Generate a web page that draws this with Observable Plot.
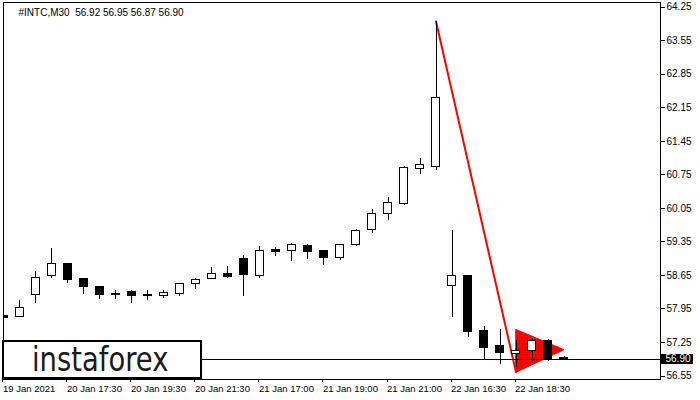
<!DOCTYPE html>
<html>
<head>
<meta charset="utf-8">
<script src="https://cdn.jsdelivr.net/npm/d3@7"></script>
<script src="https://cdn.jsdelivr.net/npm/@observablehq/plot@0.6"></script>
<style>
  html, body { margin: 0; padding: 0; background: #fff; }
  #wrap { position: relative; width: 700px; height: 400px; overflow: hidden; }
  #wrap svg text { white-space: pre; }
  #logo { position: absolute; left: 2px; top: 340px; width: 200px; height: 39px; box-sizing: border-box;
          border: 2px solid #000; background: #fff; }
  #logo span { position: absolute; left: 28px; top: 1px; display: block; white-space: nowrap;
               font-family: 'DejaVu Sans', sans-serif; font-size: 33px; line-height: 34px; color: #1a1a1a;
               transform: scaleX(0.83); transform-origin: 0 50%; }
</style>
</head>
<body>
<div id="wrap"></div>
<script>
// ---- data ----
const symbol = "#INTC,M30";
const opens  = [57.81,57.79,58.25,58.64,58.88,58.57,58.41,58.26,58.30,58.25,58.22,58.27,58.47,58.57,58.67,59.00,58.64,59.19,59.16,59.27,59.17,59.01,59.28,59.59,59.94,60.15,60.88,60.92,58.43,58.64,57.49,57.17,57.01,57.08,57.29,56.92];
const highs  = [57.82,58.13,58.73,59.21,58.88,58.57,58.41,58.34,58.34,58.33,58.34,58.48,58.59,58.82,58.84,59.06,59.25,59.23,59.32,59.30,59.18,59.29,59.61,60.03,60.28,60.92,61.09,63.95,59.59,58.64,57.58,57.52,57.29,57.34,57.31,56.95];
const lows   = [57.76,57.77,58.06,58.58,58.49,58.25,58.15,58.15,58.06,58.12,58.17,58.20,58.36,58.57,58.59,58.20,58.58,59.05,58.95,58.99,58.86,58.97,59.25,59.53,59.80,60.12,60.75,60.84,57.78,57.36,56.89,56.78,56.73,56.85,56.86,56.87];
const closes = [57.77,57.97,58.60,58.89,58.55,58.40,58.25,58.25,58.22,58.23,58.29,58.48,58.56,58.68,58.61,58.66,59.16,59.14,59.29,59.14,59.01,59.29,59.58,59.94,60.17,60.90,60.95,62.36,58.64,57.46,57.14,57.03,57.08,57.29,56.88,56.90];

const xTickBars   = [0, 4, 8, 12, 16, 20, 24, 28, 32];
const xTickLabels = ["19 Jan 2021","20 Jan 17:30","20 Jan 19:30","20 Jan 21:30","21 Jan 17:00","21 Jan 19:00","21 Jan 21:00","22 Jan 16:30","22 Jan 18:30"];
const yTicks = [64.25,63.55,62.85,62.15,61.45,60.75,60.05,59.35,58.65,57.95,57.25,56.55];

// bearish pennant pattern
const poleX = [27, 32];
const poleY = [63.95, 56.63];
const pennantX = [32, 35, 32];
const pennantY = [57.52, 57.10, 56.63];

const logoText = "instaforex";

// ---- build ----
const bars = opens.map((o, i) => ({i, o, h: highs[i], l: lows[i], c: closes[i]}));
const last = bars[bars.length - 1];
const lastClose = last.c;
const header = `${symbol}  ${last.o.toFixed(2)} ${last.h.toFixed(2)} ${last.l.toFixed(2)} ${last.c.toFixed(2)}`;
const pole = poleX.map((x, k) => ({x, y: poleY[k]}));
const pennant = pennantX.map((x, k) => ({x, y: pennantY[k]}));
const labelMap = new Map(xTickBars.map((b, k) => [b, xTickLabels[k]]));
const xDomain = [-0.03, 41.03];
const hw = 0.28;

const chart = Plot.plot({
  width: 700,
  height: 400,
  marginTop: 2,
  marginBottom: 21,
  marginLeft: 3,
  marginRight: 40,
  style: {fontFamily: "'Liberation Sans', Arial, sans-serif", fontSize: "10px", background: "#fff", color: "#000"},
  x: {type: "linear", domain: xDomain},
  y: {type: "linear", domain: [56.477, 64.348]},
  marks: [
    // flagpole and pennant
    Plot.line(pennant, {x: "x", y: "y", fill: "#ff0000", stroke: "#ff0000", strokeWidth: 1, curve: "linear-closed"}),
    Plot.line(pole, {x: "x", y: "y", stroke: "#ff0000", strokeWidth: 2}),
    // current price line
    Plot.ruleY([lastClose], {stroke: "#000", strokeWidth: 1, shapeRendering: "crispEdges"}),
    // candles
    Plot.ruleX(bars, {x: "i", y1: "l", y2: "h", stroke: "#000", strokeWidth: 1, clip: true, shapeRendering: "crispEdges"}),
    Plot.rect(bars.filter(d => d.c >= d.o), {x1: d => d.i - hw, x2: d => d.i + hw, y1: "o", y2: "c", fill: "#fff", stroke: "#000", strokeWidth: 1, clip: true, shapeRendering: "crispEdges"}),
    Plot.rect(bars.filter(d => d.c < d.o), {x1: d => d.i - hw, x2: d => d.i + hw, y1: "o", y2: "c", fill: "#000", stroke: "#000", strokeWidth: 1, clip: true, shapeRendering: "crispEdges"}),
    // axes
    Plot.axisY(yTicks, {anchor: "right", tickSize: 4, tickPadding: 2, tickFormat: d => d.toFixed(2), fontSize: 10, shapeRendering: "crispEdges"}),
    Plot.axisX(xTickBars, {anchor: "bottom", tickSize: 3, tickPadding: 3, textAnchor: "start", dx: -1, tickFormat: d => labelMap.get(d), fontSize: 9.5, shapeRendering: "crispEdges"}),
    Plot.frame({stroke: "#000", shapeRendering: "crispEdges"}),
    // last price badge
    Plot.rect([lastClose], {x1: () => xDomain[1], x2: () => xDomain[1], y1: d => d, y2: d => d, insetLeft: 1, insetRight: -33, insetTop: -5, insetBottom: -5, fill: "#000", shapeRendering: "crispEdges"}),
    Plot.text([lastClose], {x: () => xDomain[1], y: d => d, dx: 5, textAnchor: "start", fill: "#fff", fontSize: 10, text: d => d.toFixed(2)}),
    // header
    Plot.text([header], {frameAnchor: "top-left", dx: 15, dy: 6, textAnchor: "start", lineAnchor: "top", fill: "#000", fontSize: 10})
  ]
});

const wrap = document.getElementById("wrap");
wrap.appendChild(chart);

// logo watermark box
const logo = document.createElement("div");
logo.id = "logo";
const logoSpan = document.createElement("span");
logoSpan.textContent = logoText;
logo.appendChild(logoSpan);
wrap.appendChild(logo);
</script>
</body>
</html>
